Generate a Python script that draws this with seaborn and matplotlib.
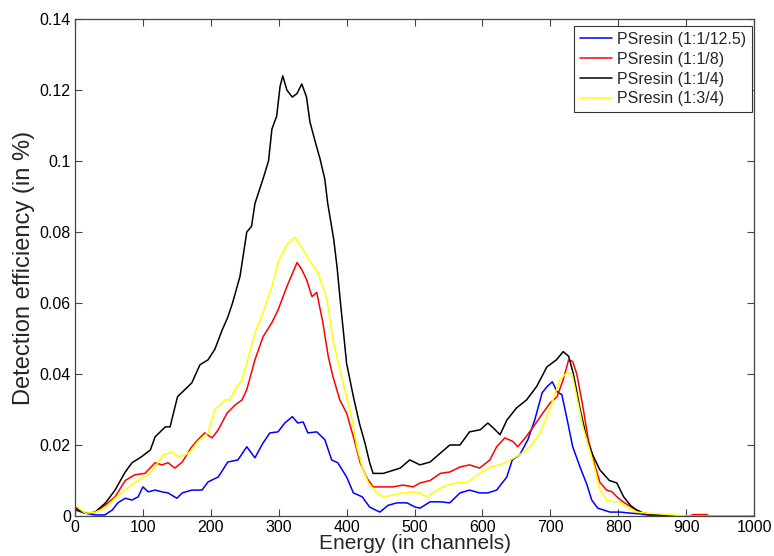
import matplotlib
matplotlib.use("Agg")
import matplotlib.pyplot as plt
import seaborn as sns
import pandas as pd
from matplotlib.ticker import FuncFormatter

# ---------------- data ----------------
labels = ["PSresin (1:1/12.5)", "PSresin (1:1/8)", "PSresin (1:1/4)", "PSresin (1:3/4)"]
colors = ["#0000ff", "#ff0000", "#000000", "#ffff00"]

blue_ch = [0, 15, 29, 44, 55, 63, 74, 84, 93, 100, 108, 118, 128, 137, 150, 158, 172, 187, 196, 211,
           225, 240, 253, 265, 277, 287, 299, 309, 320, 328, 336, 343, 356, 368, 378, 387, 400, 410, 423, 434,
           449, 461, 474, 489, 501, 508, 523, 538, 552, 567, 581, 596, 608, 621, 636, 644, 655, 667, 677, 688,
           695, 703, 710, 717, 725, 733, 744, 754, 761, 770, 788, 803, 818, 832, 842, 860, 1000]
blue_val = [0.0017, 0.0008, 0.0003, 0.0003, 0.0017, 0.0037, 0.005, 0.0045, 0.0054, 0.0082,
            0.0068, 0.0073, 0.0068, 0.0065, 0.005, 0.0065, 0.0073, 0.0073, 0.0096, 0.011,
            0.0152, 0.0158, 0.0195, 0.0164, 0.0206, 0.0234, 0.0237, 0.0262, 0.028, 0.0262,
            0.0265, 0.0234, 0.0237, 0.0215, 0.0158, 0.015, 0.011, 0.0065, 0.0054, 0.0025,
            0.0011, 0.003, 0.0037, 0.0037, 0.0025, 0.0022, 0.004, 0.004, 0.0037, 0.0065,
            0.0073, 0.0065, 0.0065, 0.0073, 0.011, 0.0158, 0.0172, 0.0215, 0.027, 0.0347,
            0.0364, 0.0378, 0.035, 0.0342, 0.027, 0.0195, 0.0137, 0.0088, 0.0045, 0.0022,
            0.0011, 0.0011, 0.0008, 0.0006, 0.0003, 0, 0]

red_ch = [0, 15, 29, 44, 59, 74, 88, 103, 118, 128, 137, 147, 158, 172, 181, 191, 202, 211, 224, 236,
          246, 253, 265, 277, 290, 299, 312, 327, 334, 341, 349, 356, 365, 373, 380, 390, 400, 410, 420, 430,
          439, 454, 468, 483, 498, 508, 523, 538, 552, 567, 581, 596, 611, 621, 633, 645, 652, 663, 675, 689,
          700, 710, 719, 727, 733, 739, 747, 756, 766, 773, 783, 791, 798, 807, 822, 837, 851, 870, 905, 910,
          930, 935, 1000]
red_val = [0.0022, 0.0008, 0.001, 0.003, 0.0054, 0.010, 0.0116, 0.012, 0.015, 0.0144,
           0.015, 0.0135, 0.0152, 0.0195, 0.0215, 0.0234, 0.022, 0.0243, 0.029, 0.0313,
           0.0327, 0.0356, 0.044, 0.0505, 0.0545, 0.058, 0.0646, 0.0714, 0.0694, 0.0666,
           0.0618, 0.063, 0.0545, 0.0449, 0.0392, 0.0327, 0.029, 0.0223, 0.015, 0.0107,
           0.0082, 0.0082, 0.0082, 0.0087, 0.0082, 0.0093, 0.010, 0.012, 0.0124, 0.0138,
           0.0144, 0.0135, 0.0158, 0.0195, 0.022, 0.021, 0.0195, 0.022, 0.0251, 0.029,
           0.0319, 0.0336, 0.0384, 0.044, 0.0435, 0.040, 0.0319, 0.0215, 0.0140, 0.0095,
           0.0073, 0.0068, 0.0054, 0.004, 0.0022, 0.0008, 0.0003, 0, 0, 0.0004,
           0.0004, 0, 0]

black_ch = [0, 14, 29, 45, 59, 74, 84, 98, 111, 118, 133, 140, 151, 172, 184, 196, 206, 217, 225, 232,
            243, 253, 260, 265, 277, 285, 290, 297, 302, 306, 312, 320, 327, 334, 341, 346, 353, 361, 368, 372,
            381, 386, 391, 395, 400, 410, 419, 427, 434, 439, 454, 479, 493, 508, 523, 538, 552, 567, 581, 597,
            608, 616, 626, 636, 650, 665, 680, 695, 709, 719, 727, 734, 744, 754, 763, 773, 787, 798, 808, 818,
            827, 837, 856, 880, 1000]
black_val = [0.0025, 0.0008, 0.001, 0.0037, 0.0073, 0.0124, 0.015, 0.0167, 0.0186, 0.0223,
             0.0251, 0.0251, 0.0336, 0.0375, 0.0426, 0.044, 0.047, 0.0525, 0.056, 0.060,
             0.0675, 0.080, 0.0816, 0.088, 0.095, 0.100, 0.109, 0.1126, 0.121, 0.124,
             0.120, 0.118, 0.119, 0.1217, 0.118, 0.111, 0.106, 0.1005, 0.0948, 0.0883,
             0.078, 0.070, 0.060, 0.0525, 0.043, 0.0336, 0.026, 0.0206, 0.015, 0.012,
             0.012, 0.0135, 0.0158, 0.0144, 0.0152, 0.0177, 0.020, 0.020, 0.0237, 0.0243,
             0.0262, 0.0248, 0.0229, 0.027, 0.0304, 0.0327, 0.0365, 0.042, 0.044, 0.0463,
             0.045, 0.040, 0.030, 0.0215, 0.0170, 0.013, 0.010, 0.0093, 0.0054, 0.003,
             0.0017, 0.0008, 0.0003, 0, 0]

yellow_ch = [0, 15, 29, 44, 59, 74, 86, 99, 110, 122, 130, 143, 152, 162, 169, 181, 196, 206, 221, 228,
             236, 246, 253, 265, 277, 290, 299, 312, 324, 334, 346, 358, 371, 380, 390, 400, 408, 415, 423, 432,
             445, 454, 468, 483, 498, 508, 518, 533, 548, 562, 579, 596, 611, 626, 641, 655, 670, 685, 695, 704,
             714, 725, 732, 739, 748, 758, 766, 773, 783, 793, 802, 812, 827, 842, 861, 881, 900, 1000]
yellow_val = [0.003, 0.0008, 0.001, 0.0022, 0.005, 0.0073, 0.0093, 0.0107, 0.012, 0.015,
              0.0172, 0.018, 0.0167, 0.0172, 0.018, 0.021, 0.0234, 0.030, 0.0327, 0.0327,
              0.0356, 0.0384, 0.043, 0.0516, 0.0573, 0.0646, 0.0714, 0.0765, 0.0785, 0.0756,
              0.0717, 0.0686, 0.061, 0.0497, 0.0412, 0.0336, 0.0271, 0.0195, 0.0138, 0.0093,
              0.0065, 0.0054, 0.0059, 0.0065, 0.0068, 0.0065, 0.0054, 0.0073, 0.0087, 0.0093,
              0.0096, 0.012, 0.0138, 0.0144, 0.0158, 0.0172, 0.0195, 0.0234, 0.028, 0.0327,
              0.0384, 0.0404, 0.040, 0.0336, 0.0251, 0.0186, 0.0130, 0.0073, 0.0045, 0.004,
              0.004, 0.0025, 0.0011, 0.0008, 0.0006, 0.0003, 0, 0]

x_ticks = list(range(0, 1001, 100))
y_ticks = [0, 0.02, 0.04, 0.06, 0.08, 0.1, 0.12, 0.14]
x_label = "Energy (in channels)"
y_label = "Detection efficiency (in %)"

# ---------------- plot ----------------
sns.set_theme(style="white")
plt.rcParams["font.family"] = ["Liberation Sans", "DejaVu Sans"]

fig = plt.figure(figsize=(7.74, 5.56), dpi=100)
ax = fig.add_axes([75 / 774, 1 - 516 / 556, (754 - 75) / 774, (516 - 19) / 556])

series = [(blue_ch, blue_val), (red_ch, red_val), (black_ch, black_val), (yellow_ch, yellow_val)]
for (chs, vals), lab, col in zip(series, labels, colors):
    df = pd.DataFrame({"channel": chs, "eff": vals})
    sns.lineplot(data=df, x="channel", y="eff", ax=ax, color=col, label=lab,
                 linewidth=1.1, estimator=None, sort=False)

ax.set_xlim(0, 1000)
ax.set_ylim(0, 0.14)
ax.set_xticks(x_ticks)
ax.set_yticks(y_ticks)
ax.yaxis.set_major_formatter(FuncFormatter(lambda v, p: "%g" % round(v, 4)))
ax.xaxis.set_major_formatter(FuncFormatter(lambda v, p: "%g" % v))

ax.tick_params(axis="both", which="major", direction="in", length=5, width=0.8,
               color="#444444", labelsize=11.5, labelcolor="black",
               top=True, right=True, bottom=True, left=True, pad=3)
for s in ax.spines.values():
    s.set_visible(True)
    s.set_color("#444444")
    s.set_linewidth(0.9)

ax.set_xlabel(x_label, fontsize=15, labelpad=-1)
ax.set_ylabel(y_label, fontsize=17, labelpad=3)

leg = ax.legend(loc="upper right", bbox_to_anchor=(0.997, 0.985), borderaxespad=0,
                fontsize=11.5, frameon=True, fancybox=False, framealpha=1,
                edgecolor="#333333", handlelength=2.0, handletextpad=0.35,
                labelspacing=0.3, borderpad=0.35)
leg.get_frame().set_linewidth(0.8)

fig.savefig("out.png", dpi=100)
